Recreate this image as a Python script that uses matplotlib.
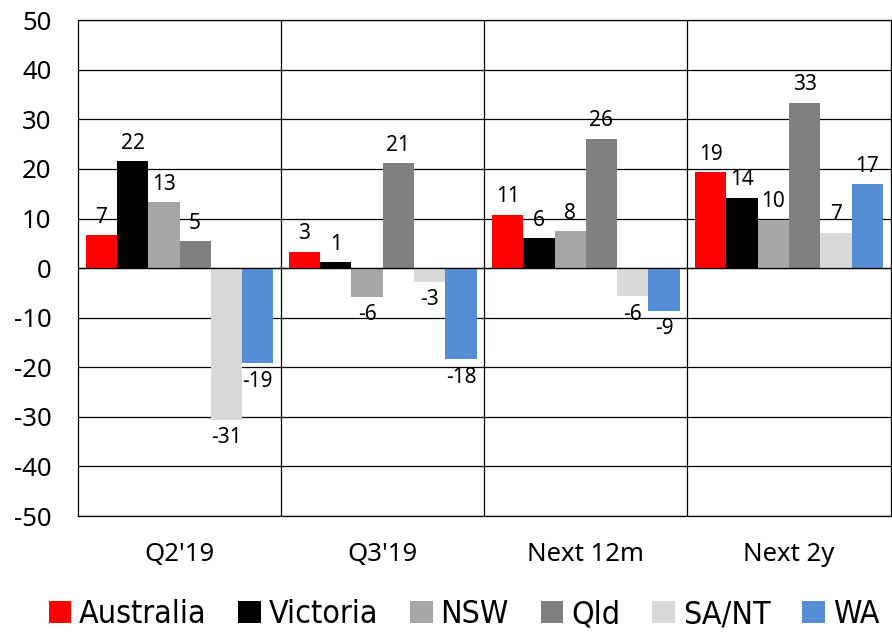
import matplotlib
matplotlib.use('Agg')
import matplotlib.pyplot as plt
import numpy as np

categories = ["Q2'19", "Q3'19", "Next 12m", "Next 2y"]
series = ['Australia', 'Victoria', 'NSW', 'Qld', 'SA/NT', 'WA']
australia = [6.6, 3.3, 10.8, 19.4]
victoria = [21.6, 1.2, 6.0, 14.2]
nsw = [13.3, -5.8, 7.5, 9.8]
qld = [5.4, 21.2, 26.1, 33.4]
sant = [-30.6, -2.7, -5.7, 7.1]
wa = [-19.2, -18.4, -8.6, 16.9]
colors = ['#ff0000', '#000000', '#a6a6a6', '#808080', '#d9d9d9', '#558ed5']
yticks = list(range(-50, 51, 10))

plt.rcParams['font.family'] = ['Noto Sans', 'DejaVu Sans']

fig = plt.figure(figsize=(8.92, 6.32), dpi=100)
ax = fig.add_axes([0.0874, 0.1835, 0.911, 0.7845])

data = [australia, victoria, nsw, qld, sant, wa]
x = np.arange(len(categories))
w = 0.154
for i, (name, vals) in enumerate(zip(series, data)):
    pos = x + (i - 2.5) * w
    ax.bar(pos, vals, w, color=colors[i], label=name, zorder=3)
    for px, v in zip(pos, vals):
        if v >= 0:
            ax.text(px, v + 1.5, str(int(round(v))), ha='center', va='bottom', fontsize=15)
        else:
            ax.text(px, v - 1.5, str(int(round(v))), ha='center', va='top', fontsize=15)

ax.set_xlim(-0.5, 3.5)
ax.set_ylim(-50, 50)
ax.set_yticks(yticks)
ax.set_yticklabels([str(t) for t in yticks], fontsize=18.5)
ax.set_xticks(x)
ax.set_xticklabels(categories, fontsize=18.5)
ax.tick_params(axis='x', length=0, pad=19)
ax.tick_params(axis='y', length=0, pad=19)
ax.grid(axis='y', color='black', linewidth=0.9, zorder=1)
for b in [0.5, 1.5, 2.5]:
    ax.axvline(b, color='black', linewidth=0.9, zorder=1)
ax.axhline(0, color='black', linewidth=0.9, zorder=4)
for s in ax.spines.values():
    s.set_linewidth(0.9)

fig.legend(loc='center', bbox_to_anchor=(0.52, 0.027), ncol=6, frameon=False,
           handlelength=0.7, handleheight=0.7, handletextpad=0.25,
           columnspacing=1.0,
           prop={'family': 'DejaVu Sans', 'stretch': 'condensed', 'size': 23})

fig.savefig('out.png', dpi=100)
